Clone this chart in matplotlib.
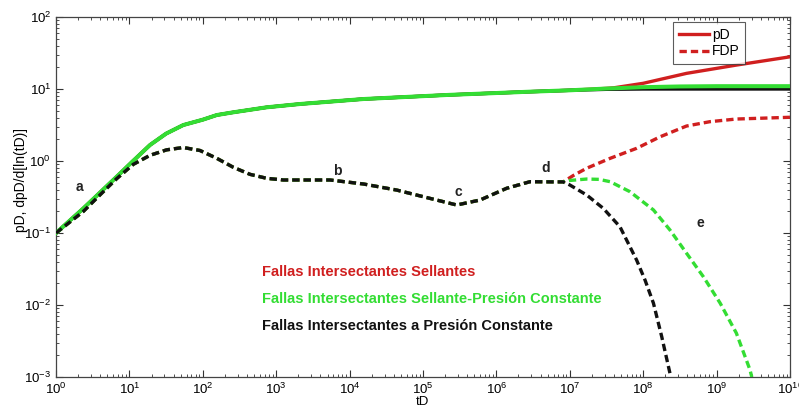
import matplotlib
matplotlib.use("Agg")
import matplotlib.pyplot as plt
import numpy as np
from matplotlib.lines import Line2D

# ---- data ----
# common early pressure curve (identical for all three systems)
td_p_common = [1, 2.36, 6.71, 11.2, 19.1, 31.6, 54.2, 100, 155, 261, 741, 2110, 15400, 2.1e5, 2.87e6, 1e7]
pd_common = [0.1, 0.22, 0.605, 1.0, 1.67, 2.4, 3.16, 3.75, 4.35, 4.75, 5.57, 6.19, 7.26, 8.26, 9.18, 9.6]

td_p_black = [3.16e7, 1e8, 1e9, 1e10]
pd_black = [9.9, 10.0, 10.0, 10.0]
td_p_green = [3.16e7, 1e8, 3.16e8, 1e9, 1e10]
pd_green = [10.15, 10.6, 10.85, 10.95, 10.95]
td_p_red = [3.16e7, 4e7, 1e8, 3.9e8, 1.86e9, 1e10]
pd_red = [10.2, 10.4, 12.0, 16.5, 21.5, 28.0]

# common early derivative curve
td_d_common = [1, 2.36, 3.98, 6.71, 11.3, 19.1, 32.2, 54.2, 91.6, 155, 261, 440, 741, 1250,
               5410, 15400, 43800, 1.24e5, 2.88e5, 5.98e5, 1.38e6, 2.87e6, 5.96e6, 8.13e6]
fdp_common = [0.1, 0.20, 0.339, 0.57, 0.90, 1.2, 1.43, 1.54, 1.40, 1.09, 0.817, 0.653, 0.575, 0.545,
              0.545, 0.48, 0.395, 0.303, 0.245, 0.287, 0.418, 0.516, 0.513, 0.513]

td_d_black = [1e7, 1.7e7, 2.86e7, 4.83e7, 8.13e7, 1.06e8, 1.38e8, 1.79e8, 2.32e8, 2.37e8]
fdp_black = [0.465, 0.337, 0.22, 0.122, 0.0422, 0.0222, 0.0106, 0.00363, 0.00112, 0.001]
td_d_green = [1e7, 1.7e7, 2.51e7, 3.55e7, 6.6e7, 1.38e8, 2.32e8, 3.89e8, 6.61e8, 1.12e9, 1.86e9, 2.85e9, 3.02e9]
fdp_green = [0.537, 0.562, 0.556, 0.516, 0.375, 0.209, 0.110, 0.0525, 0.0247, 0.0106, 0.00407, 0.00126, 0.001]
td_d_red = [1.12e7, 1.7e7, 3.55e7, 8.13e7, 1.7e8, 3.89e8, 8.13e8, 1.86e9, 1e10]
fdp_red = [0.63, 0.794, 1.09, 1.50, 2.17, 3.06, 3.52, 3.83, 4.05]

labels = ["Fallas Intersectantes Sellantes",
          "Fallas Intersectantes Sellante-Presión Constante",
          "Fallas Intersectantes a Presión Constante"]
curve_letters = ["a", "b", "c", "d", "e"]
letter_pos_t = [2.1, 6900, 3.0e5, 4.7e6, 6.0e8]
letter_pos_v = [0.435, 0.733, 0.375, 0.79, 0.136]

# ---- style ----
plt.rcParams['font.family'] = ['Liberation Sans', 'DejaVu Sans']
plt.rcParams['mathtext.default'] = 'regular'
plt.rcParams['axes.unicode_minus'] = False

RED = '#d01f1f'
GREEN = '#33dd33'
BLACK = '#111111'

fig = plt.figure(figsize=(7.99, 4.11), dpi=100)
ax = fig.add_axes([0.0701, 0.0827, 0.9186, 0.8759])

lw_s = 2.4
lw_d = 2.4
dash = (2.2, 1.2)

# solid pressure curves: red below, black, green on top
ax.plot(td_p_common + td_p_red, pd_common + pd_red, color=RED, lw=lw_s, zorder=2)
ax.plot(td_p_common + td_p_black, pd_common + pd_black, color=BLACK, lw=lw_s, zorder=3)
ax.plot(td_p_common + td_p_green, pd_common + pd_green, color=GREEN, lw=lw_s + 0.5, zorder=4)

# derivative curves
ax.plot(td_d_common + td_d_red, fdp_common + fdp_red, color=RED, lw=lw_d, ls=(0, dash), zorder=2)
ax.plot(td_d_common + td_d_green, fdp_common + fdp_green, color=GREEN, lw=lw_d, ls=(0, dash), zorder=3)
ax.plot(td_d_common + td_d_black, fdp_common + fdp_black, color=BLACK, lw=lw_d, ls=(0, dash), zorder=4)

ax.set_xscale('log')
ax.set_yscale('log')
ax.set_xlim(1, 1e10)
ax.set_ylim(1e-3, 1e2)

ax.xaxis.set_major_locator(matplotlib.ticker.LogLocator(base=10, numticks=20))
ax.xaxis.set_minor_locator(matplotlib.ticker.LogLocator(base=10, subs=np.arange(2, 10), numticks=20))
ax.yaxis.set_major_locator(matplotlib.ticker.LogLocator(base=10, numticks=20))
ax.yaxis.set_minor_locator(matplotlib.ticker.LogLocator(base=10, subs=np.arange(2, 10), numticks=20))
ax.xaxis.set_minor_formatter(matplotlib.ticker.NullFormatter())
ax.yaxis.set_minor_formatter(matplotlib.ticker.NullFormatter())

ax.tick_params(which='both', direction='in', top=True, right=True, colors='#333333', labelcolor='black')
ax.tick_params(which='major', length=5, width=0.8, labelsize=9.5)
ax.tick_params(which='minor', length=2.5, width=0.6)
for s in ax.spines.values():
    s.set_color('#444444')
    s.set_linewidth(0.9)

ax.set_xlabel('tD', fontsize=9.5, labelpad=-1)
ax.set_ylabel('pD, dpD/d[ln(tD)]', fontsize=10)
ax.yaxis.set_label_coords(-0.038, 0.547)

for ch, t, v in zip(curve_letters, letter_pos_t, letter_pos_v):
    ax.text(t, v, ch, fontsize=10, fontweight='bold', color='#222222', ha='center', va='center', zorder=6)

for lab, col, yy in zip(labels, [RED, GREEN, BLACK], [0.292, 0.217, 0.142]):
    ax.text(0.281, yy, lab, transform=ax.transAxes, fontsize=10.5, fontweight='bold',
            color=col, ha='left', va='center')

handles = [Line2D([], [], color=RED, lw=lw_s),
           Line2D([], [], color=RED, lw=lw_d, ls=(0, dash))]
leg = ax.legend(handles, ['pD', 'FDP'], loc='upper right', fontsize=10, frameon=True,
                fancybox=False, edgecolor='#333333', handlelength=2.2, borderpad=0.4,
                labelspacing=0.2, handletextpad=0.2, borderaxespad=0,
                bbox_to_anchor=(0.939, 0.986))
leg.get_frame().set_linewidth(0.8)

fig.savefig('out.png', dpi=100)
